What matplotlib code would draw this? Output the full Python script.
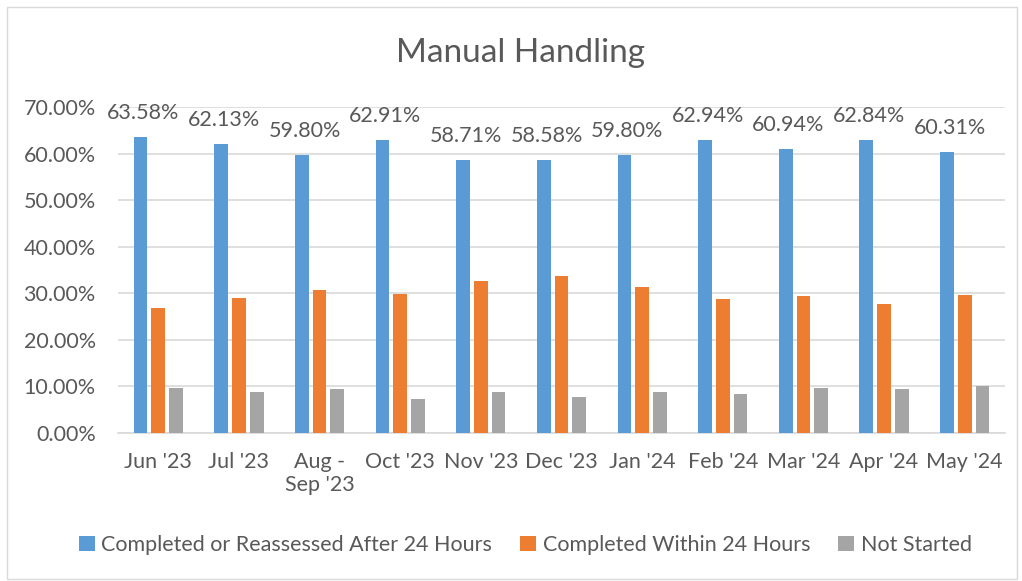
import numpy as np
import matplotlib
matplotlib.use("Agg")
import matplotlib.pyplot as plt
from matplotlib.patches import Rectangle
from matplotlib.ticker import FuncFormatter

plt.rcParams['font.family'] = ['Lato', 'DejaVu Sans']

months = ["Jun '23", "Jul '23", "Aug -\nSep '23", "Oct '23", "Nov '23", "Dec '23",
          "Jan '24", "Feb '24", "Mar '24", "Apr '24", "May '24"]
after_24h = [63.58, 62.13, 59.80, 62.91, 58.71, 58.58, 59.80, 62.94, 60.94, 62.84, 60.31]
within_24h = [26.8, 29.0, 30.8, 29.9, 32.6, 33.7, 31.4, 28.7, 29.4, 27.8, 29.6]
not_started = [9.6, 8.9, 9.4, 7.2, 8.7, 7.7, 8.8, 8.4, 9.7, 9.4, 10.1]

series = ["Completed or Reassessed After 24 Hours", "Completed Within 24 Hours", "Not Started"]
colors = ["#5b9bd5", "#ed7d31", "#a5a5a5"]
txt = "#595959"
fs = 15.5

fig = plt.figure(figsize=(10.22, 5.81), dpi=100)
ax = fig.add_axes([118 / 1022, 1 - 433 / 581, 887 / 1022, 326 / 581])

x = np.arange(len(months))
w = 0.17
off = 0.22
for i, (vals, c, name) in enumerate(zip([after_24h, within_24h, not_started], colors, series)):
    bars = ax.bar(x + (i - 1) * off, vals, w, color=c, label=name, zorder=3)
    if i == 0:
        for b, v in zip(bars, vals):
            ax.annotate(f"{v:.2f}%", (b.get_x() + b.get_width() / 2, v), xytext=(2, 10),
                        textcoords="offset points", ha="center", va="bottom",
                        fontsize=fs, color=txt)

ax.set_xlim(-0.5, len(months) - 0.5)
ax.set_ylim(0, 70)
ax.set_yticks(np.arange(0, 71, 10))
ax.yaxis.set_major_formatter(FuncFormatter(lambda v, p: f"{v:.2f}%"))
ax.set_xticks(x)
ax.set_xticklabels(months, linespacing=1.15)
ax.tick_params(length=0, labelsize=fs, labelcolor=txt)
ax.tick_params(axis='x', pad=14)
ax.tick_params(axis='y', pad=16)
ax.grid(axis='y', color="#d9d9d9", linewidth=1.2, zorder=0)
for s in ['top', 'right', 'left']:
    ax.spines[s].set_visible(False)
ax.spines['bottom'].set_color("#d9d9d9")
ax.spines['bottom'].set_linewidth(1.2)

fig.text(0.509, 1 - 53 / 581, "Manual Handling", ha="center", va="center", fontsize=24, color=txt)

fig.legend(loc="center", bbox_to_anchor=(0.514, 1 - 545 / 581), ncol=3, frameon=False,
           fontsize=fs, labelcolor=txt, handlelength=0.75, handleheight=0.75,
           handletextpad=0.3, columnspacing=1.3)

fig.patches.append(Rectangle((7 / 1022, 2 / 581), 1010 / 1022, 572 / 581, transform=fig.transFigure,
                             fill=False, edgecolor="#d9d9d9", linewidth=1))

fig.savefig("out.png", dpi=100)
